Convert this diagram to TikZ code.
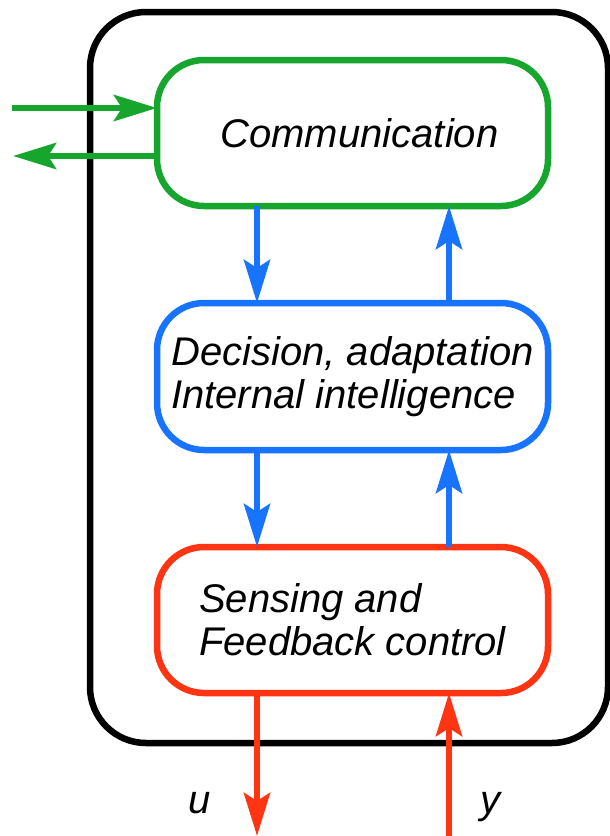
\documentclass[tikz,border=0pt]{standalone}
\usepackage{fontspec}
\setmainfont{Liberation Sans}
\usetikzlibrary{arrows.meta}
\definecolor{commgreen}{RGB}{22,166,46}
\definecolor{decblue}{RGB}{24,116,255}
\definecolor{ctrlred}{RGB}{255,52,18}
\tikzset{
  layer/.style={draw, line width=6.5pt, rounded corners=47pt, outer sep=0pt,
    minimum width=391pt, minimum height=146pt, align=left, fill=white,
    font=\fontsize{40}{43}\selectfont\itshape},
  flow/.style={line width=6.5pt, -{Stealth[length=43pt 0, width=26pt 0, inset=8pt]}},
  sig/.style={font=\fontsize{40}{43}\selectfont\itshape, anchor=base, inner sep=0pt}
}
\begin{document}
\begin{tikzpicture}[x=1pt,y=-1pt]
\useasboundingbox (0,0) rectangle (610,836);
% enclosing system
\node[draw, line width=6.5pt, rounded corners=56pt, outer sep=0pt,
  minimum width=518pt, minimum height=731pt] (sys) at (349,377.5) {};
% the three layers
\node[layer, draw=commgreen] (comm) at (352.5,133) {\hspace*{14pt}Communication};
\node[layer, draw=decblue, minimum height=147pt] (dec) at (352.5,376.5) {Decision, adaptation\\Internal intelligence};
\node[layer, draw=ctrlred] (ctrl) at (352.5,620) {Sensing and\\Feedback control};
% helper coordinates for the vertical links
\coordinate (xl) at (257,0);
\coordinate (xr) at (449,0);
\coordinate (gin) at (12,108);
\coordinate (gout) at (13,156);
\coordinate (uend) at (257,836);
\coordinate (ystart) at (449,836);
% external messages
\draw[flow, commgreen] (gin) -- (gin -| comm.west);
\draw[flow, commgreen] (gout -| comm.west) -- (gout);
% layer links
\draw[flow, decblue] (comm.south -| xl) -- (dec.north -| xl);
\draw[flow, decblue] (dec.north -| xr) -- (comm.south -| xr);
\draw[flow, decblue] (dec.south -| xl) -- (ctrl.north -| xl);
\draw[flow, decblue] (ctrl.north -| xr) -- (dec.south -| xr);
% plant signals
\draw[flow, ctrlred] (ctrl.south -| uend) -- (uend);
\draw[flow, ctrlred] (ystart) -- (ystart |- ctrl.south);
\node[sig] (u) at (200,813) {u};
\node[sig] (y) at (490,813) {y};
\end{tikzpicture}
\end{document}
